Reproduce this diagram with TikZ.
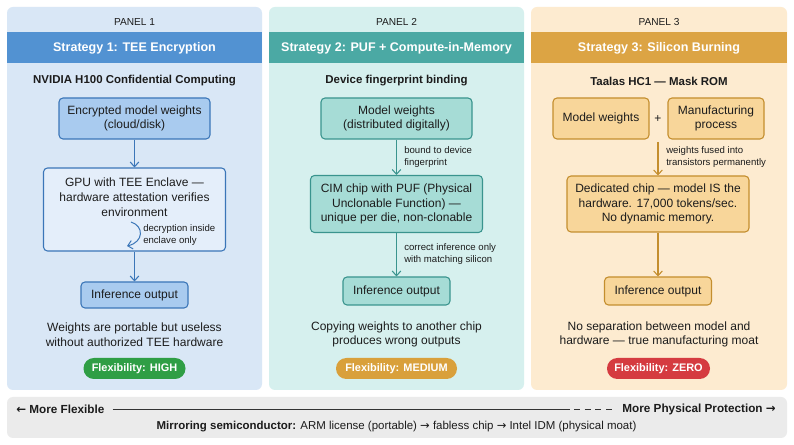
\documentclass[tikz,border=0pt]{standalone}
\usepackage{fontspec}
\setmainfont{Liberation Sans}
\newfontfamily\arrowfont{DejaVu Sans}
\usetikzlibrary{arrows.meta}
\definecolor{txt}{HTML}{1C1C1C}
\definecolor{aBg}{HTML}{D9E7F6}
\definecolor{aHd}{HTML}{5292D2}
\definecolor{aBox}{HTML}{A9CBEF}
\definecolor{aLn}{HTML}{3B76B8}
\definecolor{aPale}{HTML}{E4EEFA}
\definecolor{bBg}{HTML}{D6F0EE}
\definecolor{bHd}{HTML}{4BA9A4}
\definecolor{bBox}{HTML}{A6DCD6}
\definecolor{bLn}{HTML}{3A948E}
\definecolor{cBg}{HTML}{FDEBD0}
\definecolor{cHd}{HTML}{DCA444}
\definecolor{cBox}{HTML}{F8D69A}
\definecolor{cLn}{HTML}{C48E2E}
\definecolor{pGreen}{HTML}{2F9E45}
\definecolor{pOrange}{HTML}{D9A03B}
\definecolor{pRed}{HTML}{D53B40}
\definecolor{stripBg}{HTML}{EBEBEB}
\definecolor{stripLn}{HTML}{333333}
\newcommand{\arL}{{\arrowfont ←}}
\newcommand{\arR}{{\arrowfont →}}
\tikzset{
  wh/.style 2 args={minimum width={#1*0.75pt}, minimum height={#2*0.75pt}},
  panelbg/.style={rounded corners=4.5pt, draw=none},
  panellabel/.style={font=\fontsize{7.6}{9}\selectfont, text=txt},
  headtitle/.style={font=\fontsize{9.4}{11}\selectfont\bfseries, text=white},
  subtitle/.style={font=\fontsize{8.6}{10}\selectfont\bfseries, text=txt},
  boxbase/.style={line width=0.8pt, rounded corners=3pt, align=center, inner sep=0pt, font=\fontsize{9}{11}\selectfont, text=txt},
  boxA/.style={boxbase, draw=aLn, fill=aBox},
  boxB/.style={boxbase, draw=bLn, fill=bBox},
  boxC/.style={boxbase, draw=cLn, fill=cBox},
  arr/.style={-{Straight Barb[length=3.5pt,width=6.5pt]}, line width=0.8pt},
  smalllbl/.style={font=\fontsize{7.2}{9}\selectfont, text=txt, align=left, anchor=west, inner sep=0pt},
  caption/.style={font=\fontsize{9}{11}\selectfont, text=txt, align=center},
  pill/.style={rounded corners=7.8pt, minimum height=15.75pt, inner sep=0pt, text=white, font=\fontsize{8.2}{10}\selectfont\bfseries},
  stripbold/.style={font=\fontsize{8.8}{11}\selectfont\bfseries, text=txt, inner sep=0pt},
}
\begin{document}
\begin{tikzpicture}[x=0.75pt, y=-0.75pt]
\useasboundingbox (0,0) rectangle (794,445);
\fill[white] (0,0) rectangle (794,445);

% ---------- Panel backgrounds ----------
\fill[panelbg, aBg] (7,7) rectangle (262,390);
\fill[panelbg, bBg] (269,7) rectangle (524,390);
\fill[panelbg, cBg] (531,7) rectangle (787,390);
\fill[aHd] (7,32) rectangle (262,63);
\fill[bHd] (269,32) rectangle (524,63);
\fill[cHd] (531,32) rectangle (787,63);

% ---------- Panel 1 ----------
\node[panellabel] (p1lab) at (134.5,22) {PANEL 1};
\node[headtitle] (p1head) at (134.5,48) {Strategy 1: TEE Encryption};
\node[subtitle] (p1sub) at (134.5,81) {NVIDIA H100 Confidential Computing};
\node[boxA, wh={151}{41}] (a1) at (134.5,118.5) {Encrypted model weights\\(cloud/disk)};
\node[boxA, fill=aPale, wh={182}{83}] (a2) at (134.5,209.5) {};
\node[font=\fontsize{9}{11}\selectfont, text=txt, align=center, anchor=north, inner sep=0pt] (a2t) at (134.5,178) {GPU with TEE Enclave —\\hardware attestation verifies\\environment};
\node[boxA, wh={107}{26}] (a3) at (134.5,295) {Inference output};
\draw[arr, aLn] (a1.south) -- (a2.north);
\draw[arr, aLn] (a2.south) -- (a3.north);
\coordinate (cs) at (131,222);
\coordinate (ce) at (127,246);
\draw[arr, aLn, line width=0.75pt] (cs) .. controls (144,226) and (144,242) .. (ce);
\node[smalllbl] (alab) at (143,235.5) {decryption inside\\enclave only};
\node[caption] (acap) at (134.5,334.5) {Weights are portable but useless\\without authorized TEE hardware};
\node[pill, fill=pGreen, wh={102}{21}] (apill) at (134.5,368.5) {Flexibility: HIGH};

% ---------- Panel 2 ----------
\node[panellabel] (p2lab) at (396.5,22) {PANEL 2};
\node[headtitle] (p2head) at (396.5,48) {Strategy 2: PUF + Compute-in-Memory};
\node[subtitle] (p2sub) at (396.5,81) {Device fingerprint binding};
\node[boxB, wh={151}{41}] (b1) at (396.5,118.5) {Model weights\\(distributed digitally)};
\node[boxB, wh={172}{57}] (b2) at (396.5,204) {CIM chip with PUF (Physical\\Unclonable Function) —\\unique per die, non-clonable};
\node[boxB, wh={107}{28}] (b3) at (396.5,291) {Inference output};
\draw[arr, bLn] (b1.south) -- (b2.north);
\draw[arr, bLn] (b2.south) -- (b3.north);
\node[smalllbl] (blab1) at (404,157) {bound to device\\fingerprint};
\node[smalllbl] (blab2) at (404,254) {correct inference only\\with matching silicon};
\node[caption] (bcap) at (396.5,334.5) {Copying weights to another chip\\produces wrong outputs};
\node[pill, fill=pOrange, wh={121}{21}] (bpill) at (396.5,368.5) {Flexibility: MEDIUM};

% ---------- Panel 3 ----------
\node[panellabel] (p3lab) at (659,22) {PANEL 3};
\node[headtitle] (p3head) at (659,48) {Strategy 3: Silicon Burning};
\node[subtitle] (p3sub) at (659,81) {Taalas HC1 — Mask ROM};
\node[boxC, wh={96}{41}] (c1) at (601,118.5) {Model weights};
\node[font=\fontsize{9}{11}\selectfont, text=txt] (plus) at (658,119) {+};
\node[boxC, wh={96}{41}] (c2) at (716,118.5) {Manufacturing\\process};
\node[boxC, wh={182}{56}] (c3) at (658,204) {Dedicated chip — model IS the\\hardware. 17,000 tokens/sec.\\No dynamic memory.};
\node[boxC, wh={107}{28}] (c4) at (658,291) {Inference output};
\coordinate (cstart) at (658,142);
\draw[arr, cLn] (cstart) -- (c3.north);
\draw[arr, cLn] (c3.south) -- (c4.north);
\node[smalllbl] (clab) at (666,157) {weights fused into\\transistors permanently};
\node[caption] (ccap) at (659,334.5) {No separation between model and\\hardware — true manufacturing moat};
\node[pill, fill=pRed, wh={103}{21}] (cpill) at (658.5,368.5) {Flexibility: ZERO};

% ---------- Bottom strip ----------
\fill[stripBg, rounded corners=4.5pt] (7,397) rectangle (787,438);
\node[stripbold, anchor=west] (left) at (16,409) {\arL{} More Flexible};
\node[stripbold, anchor=east] (right) at (776,409) {More Physical Protection \arR};
\coordinate (lm) at (570,409);
\draw[stripLn, line width=0.7pt] ([xshift=6pt]left.east) -- (lm);
\draw[stripLn, line width=0.7pt, dash pattern=on 4.5pt off 3.5pt] ([xshift=3pt]lm) -- ([xshift=-8pt]right.west);
\node[font=\fontsize{8.6}{11}\selectfont, text=txt] (mirror) at (396.5,427) {\textbf{Mirroring semiconductor:} ARM license (portable) \arR{} fabless chip \arR{} Intel IDM (physical moat)};
\end{tikzpicture}
\end{document}
